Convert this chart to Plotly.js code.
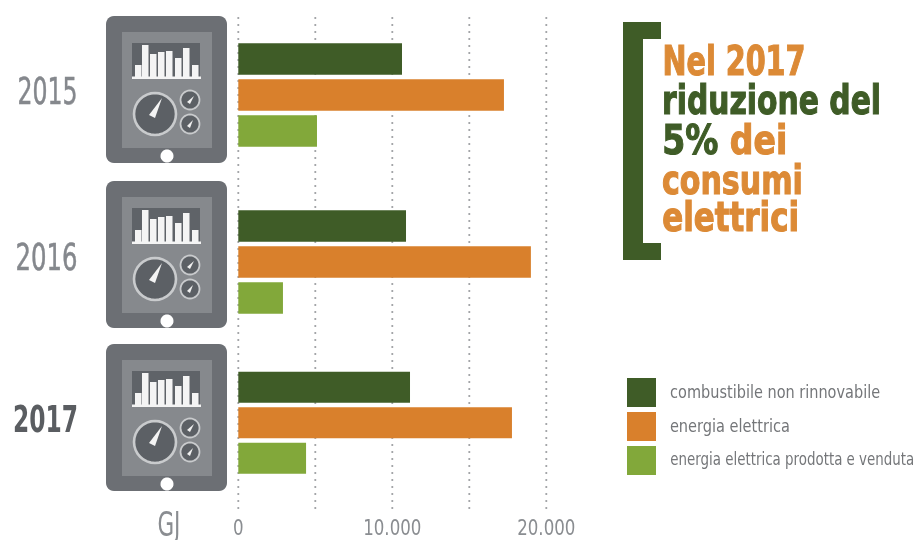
<!DOCTYPE html>
<html><head><meta charset="utf-8">
<script src="https://cdn.plot.ly/plotly-3.0.1.min.js"></script>
<style>html,body{margin:0;padding:0;background:#fff}#c{width:917px;height:540px;filter:blur(0.5px)}</style>
</head><body><div id="c"></div>
<script>
const years = ['2015','2016','2017'];
const seriesNames = ['combustibile non rinnovabile','energia elettrica','energia elettrica prodotta e venduta'];
const combustibile = [10630,10890,11150];
const elettrica = [17250,19000,17770];
const venduta = [5110,2900,4400];
const tickValues = [0,10000,20000];
const tickLabels = ['0','10.000','20.000'];
const gridValues = [0,5000,10000,15000,20000];
const unitLabel = 'GJ';
const headline = [
  [['Nel 2017','o']],
  [['riduzione del','g']],
  [['5% ','g'],['dei','o']],
  [['consumi','o']],
  [['elettrici','o']]
];

const W=917,H=540;
const GREEN='#3f5c27',ORANGE='#d9802c',LIGHT='#82a83a',TXTO='#dc8a36';
const colors=[GREEN,ORANGE,LIGHT];
const NARROW='"DejaVu Sans Condensed","DejaVu Sans",sans-serif';
const px=x=>x/W, py=y=>1-y/H;
const P=(x,y)=>px(x)+','+py(y);
const rectPath=(x0,y0,x1,y1)=>`M${P(x0,y0)}L${P(x1,y0)}L${P(x1,y1)}L${P(x0,y1)}Z`;
const circlePath=(cx,cy,r)=>{let s='';for(let i=0;i<=32;i++){const a=i/32*2*Math.PI;s+=(i?'L':'M')+P(cx+r*Math.cos(a),cy+r*Math.sin(a));}return s+'Z';};
const roundPath=(x0,y0,x1,y1,r)=>{let s='';const cs=[[x1-r,y0+r,-90],[x1-r,y1-r,0],[x0+r,y1-r,90],[x0+r,y0+r,180]];
  cs.forEach(c=>{for(let i=0;i<=6;i++){const a=(c[2]+i*15)*Math.PI/180;s+=(s?'L':'M')+P(c[0]+r*Math.cos(a),c[1]+r*Math.sin(a));}});return s+'Z';};
const fillShape=(path,color)=>({type:'path',xref:'paper',yref:'paper',path,fillcolor:color,line:{width:0},layer:'below'});
const ringShape=(path,fill,stroke,w)=>({type:'path',xref:'paper',yref:'paper',path,fillcolor:fill,line:{color:stroke,width:w},layer:'below'});

function tablet(dy){
  const s=[];
  s.push(fillShape(roundPath(106,16+dy,227,163+dy,8),'#6c6f74'));
  s.push(fillShape(rectPath(122,32+dy,212,148+dy),'#86898d'));
  s.push(fillShape(rectPath(132,43+dy,200,78+dy),'#5f6368'));
  [[135,65],[142,45],[150,54],[158,52],[166,51],[175,58],[183,48],[192,65]].forEach(b=>{
    s.push(fillShape(rectPath(b[0],b[1]+dy,b[0]+6.5,77+dy),'#f4f4f4'));
  });
  s.push(fillShape(rectPath(132,76.5+dy,201,79+dy),'#f4f4f4'));
  s.push(ringShape(circlePath(155,114+dy,21),'#5c6065','#c9cbcd',2.6));
  s.push(fillShape(`M${P(149,115+dy)}L${P(162,98+dy)}L${P(155,118+dy)}Z`,'#f4f4f4'));
  s.push(ringShape(circlePath(190,100+dy,9.5),'#5c6065','#c9cbcd',1.8));
  s.push(fillShape(`M${P(187,102+dy)}L${P(194,96+dy)}L${P(190,104+dy)}Z`,'#f0f0f0'));
  s.push(ringShape(circlePath(190,124+dy,9.5),'#5c6065','#c9cbcd',1.8));
  s.push(fillShape(`M${P(187,126+dy)}L${P(193,120+dy)}L${P(190,128+dy)}Z`,'#f0f0f0'));
  s.push(fillShape(circlePath(167,156+dy,6.5),'#ffffff'));
  return s;
}
let shapes=[...tablet(0),...tablet(165),...tablet(328)];

gridValues.forEach(v=>shapes.push({type:'line',xref:'x',yref:'paper',x0:v,x1:v,y0:py(509),y1:py(17),layer:'below',
  line:{color:'#a3a5a8',width:1.8,dash:'2px 5px'}}));

shapes.push(fillShape(`M${P(623,22)}L${P(661,22)}L${P(661,39)}L${P(643,39)}L${P(643,243)}L${P(661,243)}L${P(661,260)}L${P(623,260)}Z`,GREEN));

const legendTop=[378,412,446];
legendTop.forEach((y,i)=>shapes.push(fillShape(rectPath(627,y,656,y+29),colors[i])));

const annotations=[], fitted=[];
// every text is centred on its box and then fitted to that width (the narrow display face is not installed)
const ann=(text,left,width,y,size,color,stroke)=>{
  annotations.push({text,xref:'paper',yref:'paper',x:px(left+width/2),y:py(y),xanchor:'center',yanchor:'middle',showarrow:false,
    font:{family:NARROW,size,color},borderpad:0,borderwidth:0});
  fitted.push({width,stroke,color});
};

ann(years[0],17,60,91,38,'#85888d',0.5);
ann(years[1],15,62,257,38,'#85888d',0.5);
ann('<b>'+years[2]+'</b>',13,65,419,38,'#5a5d61');
ann(unitLabel,157,23,524,33,'#8a8d91');

const lineY=[61,100,140,180,217];
const lineLeft=662, lineWidth=[143,219,125,141,137];
headline.forEach((parts,i)=>{
  const t=parts.map(p=>`<span style="color:${p[1]==='o'?TXTO:GREEN}">${p[0]}</span>`).join('');
  ann('<b>'+t+'</b>',lineLeft,lineWidth[i],lineY[i],41,TXTO,1.1);
});
const legW=[210,120,244];
seriesNames.forEach((n,i)=>ann(n,670,legW[i],[392,426,459][i],17.5,'#747679'));

const traces=years.map((yr,i)=>({
  type:'bar',orientation:'h',name:yr,
  y:seriesNames,
  x:[combustibile[i],elettrica[i],venduta[i]],
  xaxis:'x',yaxis:i?('y'+(i+1)):'y',
  marker:{color:colors,line:{width:0}},
  showlegend:false,hoverinfo:'x+y'
}));
const yAxis=(t,b)=>({domain:[py(b),py(t)],anchor:'x',type:'category',autorange:false,range:[2.5,-0.5],
  showticklabels:false,showgrid:false,zeroline:false,showline:false,ticks:''});

const layout={
  width:W,height:H,margin:{l:0,r:0,t:0,b:0},
  paper_bgcolor:'#fff',plot_bgcolor:'rgba(0,0,0,0)',showlegend:false,bargap:0.125,
  font:{family:NARROW},
  xaxis:{domain:[px(234.3),px(600)],range:[-4/0.0154,(600-238.3)/0.0154],anchor:'free',position:py(512),
    tickmode:'array',tickvals:tickValues,ticktext:tickLabels,ticks:'',showgrid:false,zeroline:false,showline:false,
    tickfont:{family:NARROW,size:22,color:'#8a8d91'},automargin:false},
  yaxis:yAxis(41,149),
  yaxis2:yAxis(208,316),
  yaxis3:yAxis(369.5,476),
  shapes,annotations
};
Plotly.newPlot('c',traces,layout,{displayModeBar:false,staticPlot:true}).then(gd=>{
  gd.querySelectorAll('.annotation-text').forEach((t,i)=>{
    const f=fitted[i]; if(!f) return;
    t.setAttribute('textLength',f.width);
    t.setAttribute('lengthAdjust','spacingAndGlyphs');
    if(f.stroke){
      const spans=t.querySelectorAll('tspan');
      if(spans.length){spans.forEach(s=>{const c=s.style.fill; if(c){s.style.stroke=c;s.style.strokeWidth=f.stroke+'px';}});}
      else {t.style.stroke=f.color;t.style.strokeWidth=f.stroke+'px';}
    }
  });
  gd.querySelectorAll('.xtick text').forEach(t=>{
    const w=t.getComputedTextLength();
    t.setAttribute('textLength',w*0.84);
    t.setAttribute('lengthAdjust','spacingAndGlyphs');
  });
});
</script></body></html>
